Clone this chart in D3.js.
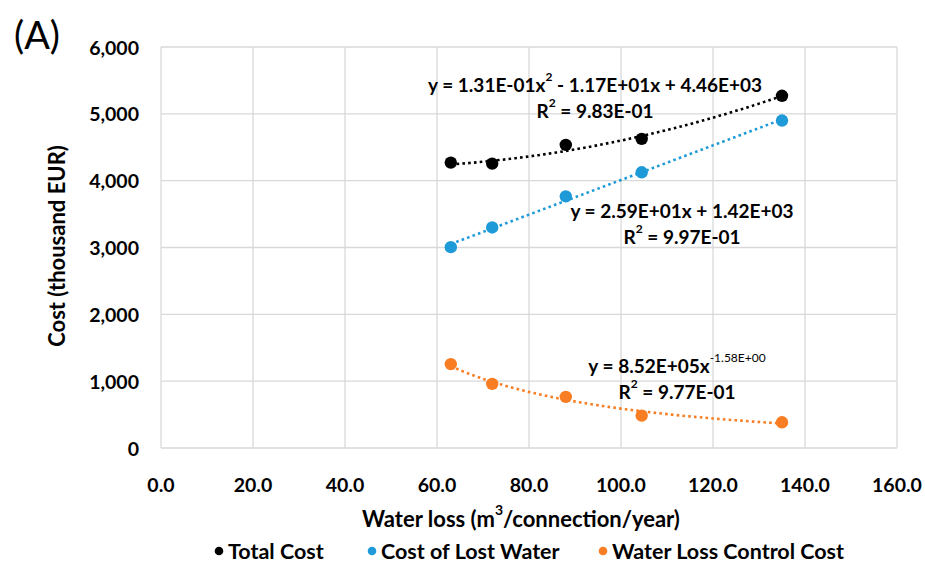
<!DOCTYPE html>
<html>
<head>
<meta charset="utf-8">
<script src="https://cdn.jsdelivr.net/npm/d3@7"></script>
<style>
  body { margin: 0; background: #fff; }
  text { font-family: Lato, "Open Sans", sans-serif; }
</style>
</head>
<body>
<div id="chart"></div>
<script>
// water loss (m3/connection/year)
const waterLoss = [63, 72, 88, 104.5, 135];
const totalCost = [4270, 4255, 4535, 4625, 5270];
const lostWaterCost = [3005, 3300, 3765, 4125, 4900];
const controlCost = [1255, 960, 765, 485, 385];

const seriesNames = ["Total Cost", "Cost of Lost Water", "Water Loss Control Cost"];
const seriesColors = ["#000000", "#1e9ad8", "#f97d22"];

// trendline coefficients as printed on the chart
const polyCoef = [1.31e-1, -1.17e1, 4.46e3];
const linCoef = [2.59e1, 1.42e3];
const powCoef = [8.52e5, -1.58];

const xTicks = [0, 20, 40, 60, 80, 100, 120, 140, 160];
const yTicks = [0, 1000, 2000, 3000, 4000, 5000, 6000];

const width = 925, height = 563;
const margin = {left: 161, right: 28, top: 47, bottom: 115};

const svg = d3.select('#chart').append('svg')
    .attr('width', width)
    .attr('height', height);

const x = d3.scaleLinear().domain([0, 160]).range([margin.left, width - margin.right]);
const y = d3.scaleLinear().domain([0, 6000]).range([height - margin.bottom, margin.top]);

// gridlines
svg.append('g').selectAll('line.v')
    .data(xTicks)
    .enter().append('line')
    .attr('x1', d => x(d)).attr('x2', d => x(d))
    .attr('y1', y(0)).attr('y2', y(6000))
    .style('stroke', '#d9d9d9').style('stroke-width', 1.3);

svg.append('g').selectAll('line.h')
    .data(yTicks)
    .enter().append('line')
    .attr('x1', x(0)).attr('x2', x(160))
    .attr('y1', d => y(d)).attr('y2', d => y(d))
    .style('stroke', '#d9d9d9').style('stroke-width', 1.3);

// tick labels
const fmtY = d3.format(',');
svg.append('g').selectAll('text')
    .data(yTicks)
    .enter().append('text')
    .attr('x', 139)
    .attr('y', d => y(d))
    .attr('text-anchor', 'end')
    .attr('dominant-baseline', 'central')
    .style('font-size', '19.5px').style('font-weight', 'bold')
    .text(d => fmtY(d));

svg.append('g').selectAll('text')
    .data(xTicks)
    .enter().append('text')
    .attr('x', d => x(d))
    .attr('y', 484)
    .attr('text-anchor', 'middle')
    .attr('dominant-baseline', 'central')
    .style('font-size', '19.5px').style('font-weight', 'bold')
    .text(d => d.toFixed(1));

// axis titles
const xt = svg.append('text')
    .attr('x', 521).attr('y', 518)
    .attr('text-anchor', 'middle')
    .attr('dominant-baseline', 'central')
    .style('font-size', '22px').style('font-weight', 'bold');
xt.append('tspan').text('Water loss (m');
xt.append('tspan').attr('baseline-shift', 'super').style('font-size', '14px').text('3');
xt.append('tspan').text('/connection/year)');

svg.append('text')
    .attr('transform', 'translate(56,246) rotate(-90)')
    .attr('text-anchor', 'middle')
    .attr('dominant-baseline', 'central')
    .style('font-size', '22px').style('font-weight', 'bold')
    .text('Cost (thousand EUR)');

svg.append('text')
    .attr('x', 14).attr('y', 34)
    .attr('dominant-baseline', 'central')
    .style('font-size', '38px')
    .text('(A)');

// trendlines
const xs = d3.range(waterLoss[0], waterLoss[waterLoss.length - 1] + 0.01, 1);
const trends = [
    xv => polyCoef[0] * xv * xv + polyCoef[1] * xv + polyCoef[2],
    xv => linCoef[0] * xv + linCoef[1],
    xv => powCoef[0] * Math.pow(xv, powCoef[1])
];
const line = d3.line().x(d => x(d[0])).y(d => y(d[1]));

trends.forEach((f, i) => {
    svg.append('path')
        .datum(xs.map(xv => [xv, f(xv)]))
        .attr('d', line)
        .style('fill', 'none')
        .style('stroke', seriesColors[i])
        .style('stroke-width', 2.6)
        .style('stroke-dasharray', '2.6,3.2');
});

// points
[totalCost, lostWaterCost, controlCost].forEach((vals, i) => {
    svg.append('g').selectAll('circle')
        .data(vals)
        .enter().append('circle')
        .attr('cx', (d, j) => x(waterLoss[j]))
        .attr('cy', d => y(d))
        .attr('r', 6.2)
        .style('fill', seriesColors[i]);
});

// equation labels
function eqLabel(cx, cy, parts, r2) {
    const t = svg.append('text')
        .attr('x', cx).attr('y', cy)
        .attr('text-anchor', 'middle')
        .attr('dominant-baseline', 'central')
        .style('font-size', '19px').style('font-weight', 'bold');
    parts.forEach(p => {
        const s = t.append('tspan').text(p[0]);
        if (p[1]) s.attr('baseline-shift', 'super').style('font-size', p[1] + 'px')
            .style('font-weight', p[2] || 'bold');
    });
    const r = svg.append('text')
        .attr('x', cx).attr('y', cy + 26)
        .attr('text-anchor', 'middle')
        .attr('dominant-baseline', 'central')
        .style('font-size', '19px').style('font-weight', 'bold');
    r.append('tspan').text('R');
    r.append('tspan').attr('baseline-shift', 'super').style('font-size', '12px').text('2');
    r.append('tspan').text(' = ' + r2);
}

eqLabel(595, 84, [['y = 1.31E-01x'], ['2', 12], [' - 1.17E+01x + 4.46E+03']], '9.83E-01');
eqLabel(682, 210, [['y = 2.59E+01x + 1.42E+03']], '9.97E-01');
eqLabel(677, 365, [['y = 8.52E+05x'], ['-1.58E+00', 12, 'normal']], '9.77E-01');

// legend
const legendX = [219, 372, 603];
seriesNames.forEach((name, i) => {
    svg.append('circle')
        .attr('cx', legendX[i]).attr('cy', 551)
        .attr('r', 4.3)
        .style('fill', seriesColors[i]);
    svg.append('text')
        .attr('x', legendX[i] + 9).attr('y', 551)
        .attr('dominant-baseline', 'central')
        .style('font-size', '21.5px').style('font-weight', 'bold')
        .text(name);
});
</script>
</body>
</html>
